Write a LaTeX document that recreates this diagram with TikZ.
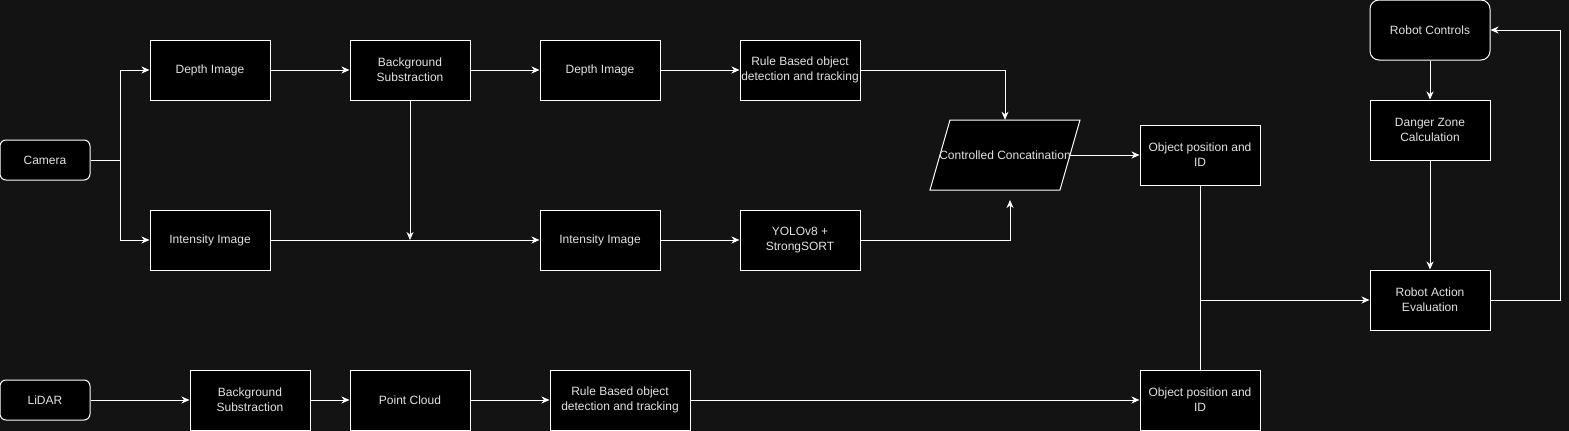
\documentclass[tikz,border=0pt]{standalone}
\usepackage{fontspec}
\setmainfont{Liberation Sans}
\usetikzlibrary{arrows.meta,calc}
\definecolor{bgc}{HTML}{131313}
\definecolor{txt}{HTML}{E2E2E2}
\begin{document}
\begin{tikzpicture}[x=1pt,y=-1pt,
  box/.style={draw=white,fill=black,line width=1pt,minimum width=120pt,minimum height=60pt,inner sep=0pt,text=txt,align=center,font=\fontsize{12}{15}\selectfont},
  rbox/.style={box,rounded corners=6pt,minimum width=90pt,minimum height=40pt},
  conn/.style={draw=white,line width=1pt,-{Stealth[length=8pt,width=7pt,inset=2.5pt]}},
  plain/.style={draw=white,line width=1pt}]
\useasboundingbox (0,0) rectangle (1569,431);
\fill[bgc] (0,0) rectangle (1569,431);

\node[rbox] (cam) at (45,160) {Camera};
\node[rbox] (lidar) at (45,400) {LiDAR};
\node[box] (dep1) at (210,70) {Depth Image};
\node[box] (bs1) at (410,70) {Background\\Substraction};
\node[box] (int1) at (210,240) {Intensity Image};
\node[box] (dep2) at (600,70) {Depth Image};
\node[box] (rule1) at (800,70) {Rule Based object\\detection and tracking};
\node[box] (int2) at (600,240) {Intensity Image};
\node[box] (yolo) at (800,240) {YOLOv8 +\\StrongSORT};
\node[inner sep=0pt,minimum width=150pt,minimum height=70pt] (concat) at (1005,155) {};
\draw[white,fill=black,line width=1pt] (950,120) -- (1080,120) -- (1060,190) -- (930,190) -- cycle;
\node[text=txt,font=\fontsize{12}{15}\selectfont] at (1005,155) {Controlled Concatination};
\node[box] (obj1) at (1200,155) {Object position and\\ID};
\node[box] (obj2) at (1200,400) {Object position and\\ID};
\node[box] (bs2) at (250,400) {Background\\Substraction};
\node[box] (pc) at (410,400) {Point Cloud};
\node[box,minimum width=140pt] (rule2) at (620,400) {Rule Based object\\detection and tracking};
\node[box,rounded corners=9pt] (rc) at (1430,30) {Robot Controls};
\node[box] (dz) at (1430,130) {Danger Zone\\Calculation};
\node[box] (rae) at (1430,300) {Robot Action\\Evaluation};

\coordinate (split) at (120,160);
\coordinate (bsdrop) at (410,240);
\coordinate (yoloup) at (1010,200);
\coordinate (concatout) at (1070,155);
\coordinate (junc) at (1200,300);
\coordinate (loop) at (1560,300);

\draw[conn] (cam.east) -- (split) |- (dep1.west);
\draw[conn] (split) |- (int1.west);
\draw[conn] (dep1) -- (bs1);
\draw[conn] (bs1) -- (dep2);
\draw[conn] (bs1.south) -- (bsdrop);
\draw[conn] (int1) -- (int2);
\draw[conn] (dep2) -- (rule1);
\draw[conn] (rule1.east) -| (concat.north);
\draw[conn] (int2) -- (yolo);
\draw[conn] (yolo.east) -| (yoloup);
\draw[conn] (concatout) -- (obj1.west);
\draw[plain] (obj1.south) -- (obj2.north);
\draw[conn] (junc) -- (rae.west);
\draw[conn] (rc) -- (dz);
\draw[conn] (dz) -- (rae);
\draw[conn] (rae.east) -- (loop) |- (rc.east);
\draw[conn] (lidar) -- (bs2);
\draw[conn] (bs2) -- (pc);
\draw[conn] (pc) -- (rule2);
\draw[conn] (rule2) -- (obj2);
\end{tikzpicture}
\end{document}
